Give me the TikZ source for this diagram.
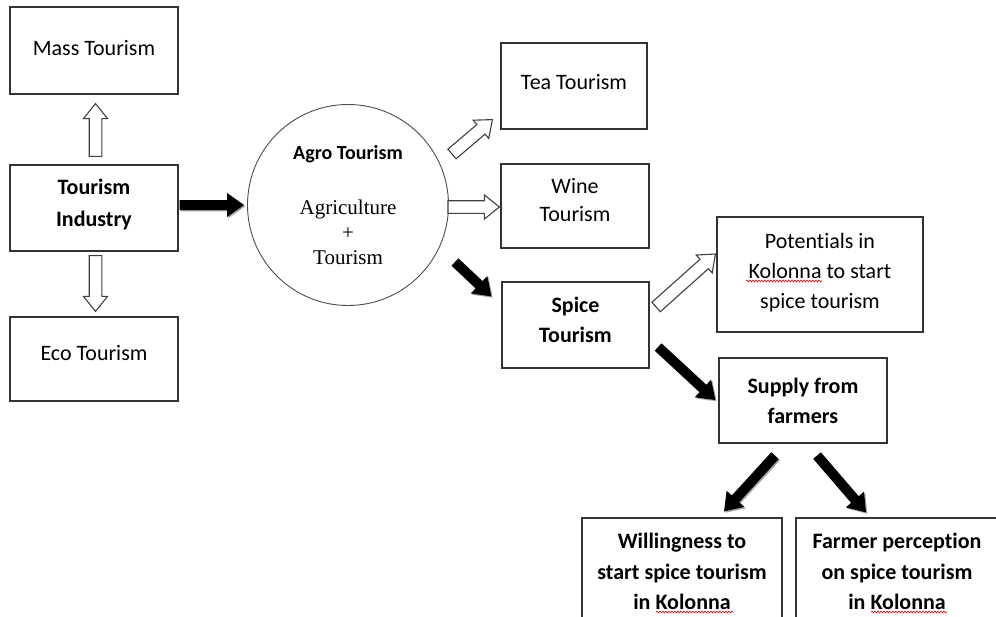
\documentclass[tikz,border=0pt]{standalone}
\usepackage{fontspec}
\setmainfont{Carlito}[Ligatures=NoCommon]
\newfontfamily\tnrfont{Liberation Serif}
\usetikzlibrary{calc,shadows,decorations.pathmorphing}

\newcommand{\blockarrow}[6]{% #1 style, #2 from, #3 to, #4 shaft half width, #5 head half width, #6 head length
  \coordinate (bap) at ($(#3)!#6!(#2)$);
  \path[#1] ($(#2)!#4!90:(#3)$) -- ($(bap)!#4!90:(#3)$) -- ($(bap)!#5!90:(#3)$) -- (#3)
    -- ($(bap)!#5!-90:(#3)$) -- ($(bap)!#4!-90:(#3)$) -- ($(#2)!#4!-90:(#3)$) -- cycle;
}
\newcommand{\solidarrow}[2]{\blockarrow{solidarr}{#1}{#2}{5pt}{12pt}{17pt}}
\newcommand{\openarrow}[2]{\blockarrow{openarr}{#1}{#2}{6.3pt}{12pt}{15pt}}

\tikzset{
  box/.style={draw=black!80, line width=1.2pt, inner sep=0pt},
  txt/.style={align=center, inner sep=0pt, font=\fontsize{22}{30}\selectfont},
  boldtxt/.style={txt, font=\fontsize{22}{30}\selectfont\bfseries},
  solidarr/.style={fill=black, drop shadow={shadow xshift=1.3pt, shadow yshift=-1.3pt, opacity=0.35, fill=black}},
  openarr/.style={draw=black!75, fill=white, line width=1.1pt, line join=miter},
  squiggle/.style={draw=red!85!black, line width=0.6pt, decorate,
    decoration={snake, amplitude=0.9pt, segment length=3pt}},
}

\begin{document}
\begin{tikzpicture}[x=1pt, y=-1pt]
\useasboundingbox (0,0) rectangle (996,616);
\clip (0,0) rectangle (996,616);
\fill[white] (0,0) rectangle (996,616);

% left column
\node[box, minimum width=168pt, minimum height=87pt] (mass) at (94,50.5) {};
\node[txt] (masst) at ($(mass.center)+(0,-2.5)$) {Mass Tourism};
\node[box, minimum width=168pt, minimum height=86pt] (ti) at (94,208) {};
\node[boldtxt, font=\fontsize{22}{32}\selectfont\bfseries] (tit) at ($(ti.center)+(0,-3)$) {Tourism\\Industry};
\node[box, minimum width=168pt, minimum height=84pt] (eco) at (94,359) {};
\node[txt] (ecot) at ($(eco.center)+(0,-6)$) {Eco Tourism};

% circle
\node[circle, draw=black!70, line width=0.9pt, minimum size=201pt, inner sep=0pt] (agro) at (348,205) {};
\node[font=\fontsize{20}{25}\selectfont\bfseries, inner sep=0pt] (agrot) at (348,154) {Agro Tourism};
\node[font=\tnrfont\fontsize{21}{25}\selectfont, align=center, inner sep=0pt] (agrit) at (348,232) {Agriculture\\+\\Tourism};

% middle column
\node[box, minimum width=146pt, minimum height=86pt] (tea) at (574,86) {};
\node[txt] (teat) at ($(tea.center)+(0,-4)$) {Tea Tourism};
\node[box, minimum width=148pt, minimum height=84pt] (wine) at (575,206) {};
\node[txt, font=\fontsize{22}{28}\selectfont] (winet) at ($(wine.center)+(0,-6)$) {Wine\\Tourism};
\node[box, minimum width=147pt, minimum height=86pt] (spice) at (575.5,325) {};
\node[boldtxt] (spicet) at ($(spice.center)+(0,-5)$) {Spice\\Tourism};

% right part
\node[box, minimum width=206pt, minimum height=115pt] (pot) at (820,274.5) {};
\node[txt] (pott) at ($(pot.center)+(0,-2)$) {Potentials in\\Kolonna to start\\spice tourism};
\node[box, minimum width=168pt, minimum height=85pt] (supply) at (803,400.5) {};
\node[boldtxt] (supplyt) at (supply.center) {Supply from\\farmers};
\node[box, minimum width=200pt, minimum height=114pt] (will) at (682,575) {};
\node[boldtxt, font=\fontsize{22}{30.5}\selectfont\bfseries] (willt) at ($(will.center)+(0,-3.5)$) {Willingness to\\start spice tourism\\in Kolonna};
\node[box, minimum width=202pt, minimum height=114pt] (farm) at (897,575) {};
\node[boldtxt, font=\fontsize{22}{30.5}\selectfont\bfseries] (farmt) at ($(farm.center)+(0,-3.5)$) {Farmer perception\\on spice tourism\\in Kolonna};

% connector end points
\coordinate (upS) at ($(ti.north)+(1.5,-8)$);
\coordinate (upE) at ($(mass.south)+(1.5,9)$);
\coordinate (dnS) at ($(ti.south)+(1.5,4)$);
\coordinate (dnE) at ($(eco.north)+(1.5,-5)$);
\coordinate (a1S) at ($(ti.east)+(1,-3)$);
\coordinate (a1E) at ($(agro.west)+(-3,0)$);
\coordinate (teaS) at ($(agro.center)+(104,-51)$);
\coordinate (teaE) at ($(tea.south west)+(-8,-10)$);
\coordinate (wineS) at ($(agro.east)+(-1,2)$);
\coordinate (wineE) at ($(wine.west)+(-1,1)$);
\coordinate (spS) at ($(agro.center)+(107,57)$);
\coordinate (spE) at ($(spice.north west)+(-10,15)$);
\coordinate (potS) at ($(spice.east)+(6.5,-18)$);
\coordinate (potE) at ($(pot.west)+(-1,-20.5)$);
\coordinate (supS) at ($(spice.east)+(8.5,22)$);
\coordinate (supE) at ($(supply.west)+(-3,-0.5)$);
\coordinate (wlS) at ($(supply.south)+(-28,12)$);
\coordinate (wlE) at ($(will.north)+(42,-6)$);
\coordinate (frS) at ($(supply.south)+(14,12)$);
\coordinate (frE) at ($(farm.north)+(-31,-5)$);

% hollow arrows
\openarrow{upS}{upE}
\openarrow{dnS}{dnE}
\openarrow{teaS}{teaE}
\openarrow{wineS}{wineE}
\openarrow{potS}{potE}

% solid arrows
\solidarrow{a1S}{a1E}
\solidarrow{spS}{spE}
\solidarrow{supS}{supE}
\solidarrow{wlS}{wlE}
\solidarrow{frS}{frE}

% spell-check underlines
\draw[squiggle] (746,281) -- (822,281);
\draw[squiggle] (656,612) -- (733,612);
\draw[squiggle] (871,612) -- (947,612);
\end{tikzpicture}
\end{document}
